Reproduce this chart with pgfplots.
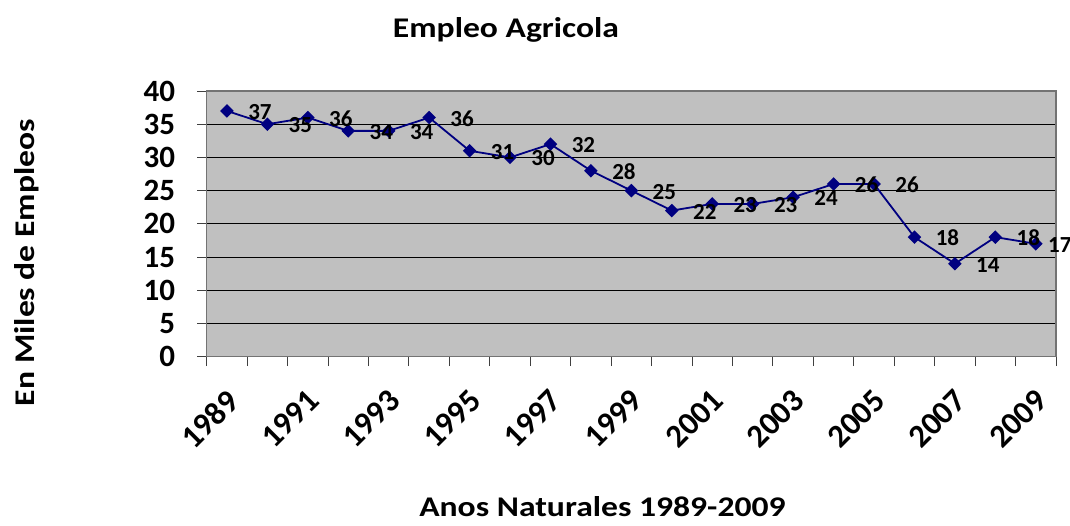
\documentclass[border=0pt]{standalone}
\usepackage{fontspec}
\setmainfont{Carlito}
\newfontfamily\titlefont[FakeStretch=1.18]{Carlito}
\usepackage{pgfplots}
\pgfplotsset{compat=1.18}
\definecolor{plotgray}{HTML}{C0C0C0}
\definecolor{navyline}{HTML}{000080}
\begin{document}
\begin{tikzpicture}
\useasboundingbox (-206.7pt,-168.3pt) rectangle (863.3pt,356.7pt);
\begin{axis}[
  at={(0pt,0pt)}, anchor=south west,
  scale only axis, width=849.3pt, height=265.7pt,
  xmin=-0.5, xmax=20.5, ymin=0, ymax=40,
  ytick={0,5,...,40},
  xtick={-0.5,0.5,...,20.5},
  xticklabels={},
  extra x ticks={0,2,...,20},
  extra x tick labels={1989,1991,1993,1995,1997,1999,2001,2003,2005,2007,2009},
  extra x tick style={major tick length=0pt, xticklabel style={yshift=-31pt, xshift=-2pt, rotate=45, anchor=north east, inner sep=0pt, font=\fontsize{32.5}{38}\selectfont\bfseries}},
  xtick pos=bottom, ytick pos=left,
  tick align=outside,
  major tick length=9.5pt,
  tick style={draw=black!75, line width=1pt},
  ymajorgrids, grid style={black, line width=0.9pt},
  axis line style={draw=black!55, line width=1.4pt},
  axis background/.style={fill=plotgray},
  /pgf/number format/assume math mode=true,
  ticklabel style={font=\fontsize{31}{36}\selectfont\bfseries},
  yticklabel style={inner sep=0pt, anchor=east, xshift=-22pt},
  title={Empleo Agricola},
  title style={at={(axis description cs:0.3524,1.1795)}, anchor=base, inner sep=0pt, font=\titlefont\fontsize{28.5}{33}\selectfont\bfseries},
  xlabel={Anos Naturales 1989-2009},
  xlabel style={at={(axis description cs:0.466,-0.600)}, anchor=base, inner sep=0pt, font=\titlefont\fontsize{28.5}{33}\selectfont\bfseries},
  ylabel={En Miles de Empleos},
  ylabel style={at={(axis description cs:-0.2033,0.3545)}, anchor=base, inner sep=0pt, font=\titlefont\fontsize{28.5}{33}\selectfont\bfseries},
  clip=false,
]
\addplot[navyline, line width=1.8pt, mark=square*, mark size=3.9pt, mark options={rotate=45, fill=navyline, draw=navyline}]
  coordinates {(0,37) (1,35) (2,36) (3,34) (4,34) (5,36) (6,31) (7,30) (8,32) (9,28) (10,25)
               (11,22) (12,23) (13,23) (14,24) (15,26) (16,26) (17,18) (18,14) (19,18) (20,17)};
\addplot[draw=none, mark=none, nodes near coords,
  every node near coord/.append style={anchor=center, xshift=33pt, yshift=-1pt, inner sep=0pt, font=\fontsize{23}{27}\selectfont\bfseries}]
  coordinates {(0,37) (1,35) (2,36) (3,34) (4,34) (5,36) (6,31) (7,30) (8,32) (9,28) (10,25)
               (11,22) (12,23) (13,23) (14,24) (15,26) (16,26) (17,18) (18,14) (19,18)};
\addplot[draw=none, mark=none, nodes near coords,
  every node near coord/.append style={anchor=center, xshift=24pt, yshift=-1pt, inner sep=0pt, font=\fontsize{23}{27}\selectfont\bfseries}]
  coordinates {(20,17)};
\end{axis}
\end{tikzpicture}
\end{document}
